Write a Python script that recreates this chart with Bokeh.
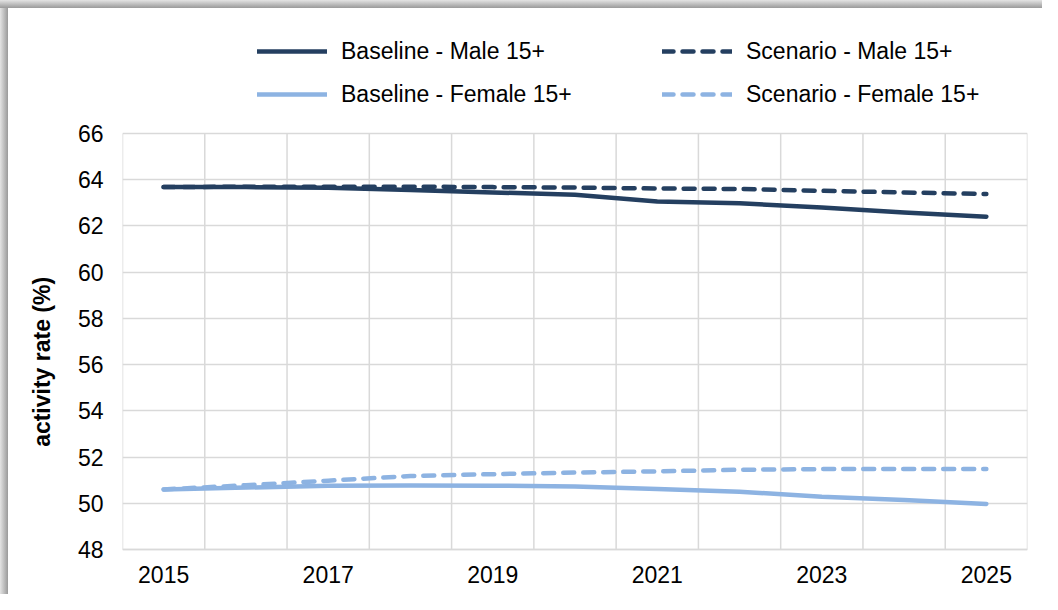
from bokeh.plotting import figure
from bokeh.models import FixedTicker, Legend, LegendItem
from bokeh.embed import file_html
from bokeh.resources import INLINE

years = [2015, 2016, 2017, 2018, 2019, 2020, 2021, 2022, 2023, 2024, 2025]
baseline_male = [63.68, 63.68, 63.65, 63.55, 63.45, 63.35, 63.06, 62.98, 62.80, 62.58, 62.40]
scenario_male = [63.68, 63.70, 63.70, 63.70, 63.68, 63.66, 63.62, 63.60, 63.52, 63.45, 63.38]
baseline_female = [50.60, 50.68, 50.76, 50.77, 50.76, 50.73, 50.62, 50.50, 50.28, 50.14, 49.97]
scenario_female = [50.60, 50.78, 50.98, 51.18, 51.26, 51.33, 51.38, 51.45, 51.48, 51.48, 51.48]
x_tick_labels = [2015, 2017, 2019, 2021, 2023, 2025]
y_ticks = [48, 50, 52, 54, 56, 58, 60, 62, 64, 66]
y_title = "activity rate (%)"
series_labels = ["Baseline - Male 15+", "Scenario - Male 15+",
                 "Baseline - Female 15+", "Scenario - Female 15+"]

DARK = "#243f60"
LIGHT = "#8db3e2"
GRID = "#d9d9d9"
FONT = "Liberation Sans"
DASH = "11 9"
LW = 4.5

# layout in pixels (figure sits at page offset 8,8)
W, H = 1042, 594
B_LEFT, B_RIGHT, B_TOP, B_BOTTOM = 122, 15, 12, 43
PLOT_H_CHART = 416          # pixel height of the 48..66 region
BOTTOM_PAD = 2              # pixels of frame below y=48
frame_h = H - B_TOP - B_BOTTOM
y_min, y_max = y_ticks[0], y_ticks[-1]
px_per_unit = PLOT_H_CHART / (y_max - y_min)
y_start = y_min - BOTTOM_PAD / px_per_unit
y_end = y_start + frame_h / px_per_unit

x_start, x_end = years[0] - 0.5, years[-1] + 0.5
cat_edges = [x_start + k for k in range(len(years) + 1)]

p = figure(width=W, height=H, output_backend="svg", toolbar_location=None,
           x_range=(x_start, x_end), y_range=(y_start, y_end),
           min_border_left=B_LEFT, min_border_right=B_RIGHT,
           min_border_top=B_TOP, min_border_bottom=B_BOTTOM,
           background_fill_color="white", border_fill_color="white", border_fill_alpha=0)
p.styles = {
    "background": (
        "linear-gradient(#ffffff, #ffffff) 8px 8px / 100% 100% no-repeat, "
        "linear-gradient(to bottom, #e4e4e4, #9a9a9a) 0 0 / 100% 8px no-repeat, "
        "linear-gradient(to right, #e4e4e4, #9a9a9a) 0 0 / 8px 100% no-repeat"
    )
}
p.outline_line_color = None

# grid: horizontal lines via grid, vertical category separators as segments
p.xgrid.visible = False
p.ygrid.ticker = FixedTicker(ticks=y_ticks)
p.ygrid.grid_line_color = GRID
p.ygrid.grid_line_width = 1.5
p.segment(x0=cat_edges, y0=y_min, x1=cat_edges, y1=y_max, line_color=GRID, line_width=1.5)
p.segment(x0=x_start, y0=y_min, x1=x_end, y1=y_min, line_color=GRID, line_width=1.5)

# axes
p.xaxis.ticker = FixedTicker(ticks=x_tick_labels)
p.yaxis.ticker = FixedTicker(ticks=y_ticks)
p.yaxis.bounds = (y_min, y_max)
for ax in (p.xaxis[0], p.yaxis[0]):
    ax.axis_line_color = None
    ax.major_tick_line_color = None
    ax.minor_tick_line_color = None
    ax.major_tick_out = 0
    ax.major_tick_in = 0
    ax.major_label_text_font = FONT
    ax.major_label_text_font_size = "23px"
    ax.major_label_text_color = "black"
p.xaxis.major_label_standoff = 14
p.yaxis.major_label_standoff = 19

# the axis title is centred on the whole frame (which also holds the legend);
# trailing no-break spaces move the visible words down to the middle of 48..66
p.yaxis.axis_label = y_title + "\u00a0" * 25
p.yaxis.axis_label_text_font = FONT
p.yaxis.axis_label_text_font_size = "23px"
p.yaxis.axis_label_text_font_style = "bold"
p.yaxis.axis_label_text_color = "black"
p.yaxis.axis_label_standoff = 20

r1 = p.line(years, baseline_male, line_color=DARK, line_width=LW, line_cap="round", line_join="round")
r2 = p.line(years, scenario_male, line_color=DARK, line_width=LW, line_dash=DASH, line_cap="round")
r3 = p.line(years, baseline_female, line_color=LIGHT, line_width=LW, line_cap="round", line_join="round")
r4 = p.line(years, scenario_female, line_color=LIGHT, line_width=LW, line_dash=DASH, line_cap="round")
renderers = [r1, r2, r3, r4]


def make_legend(idx, loc):
    lg = Legend(items=[LegendItem(label=series_labels[i], renderers=[renderers[i]]) for i in idx],
                orientation="vertical", location=loc)
    lg.padding = 0
    lg.margin = 0
    lg.border_line_color = None
    lg.background_fill_alpha = 0
    lg.glyph_width = 70
    lg.glyph_height = 32
    lg.label_height = 32
    lg.label_standoff = 14
    lg.spacing = 11
    lg.label_text_font = FONT
    lg.label_text_font_size = "23px"
    lg.label_text_color = "black"
    return lg


# legend bottom sits 441 px above the frame bottom
p.add_layout(make_legend([0, 2], (135, 441)), "center")
p.add_layout(make_legend([1, 3], (540, 441)), "center")

open("out.html", "w").write(file_html(p, INLINE))
